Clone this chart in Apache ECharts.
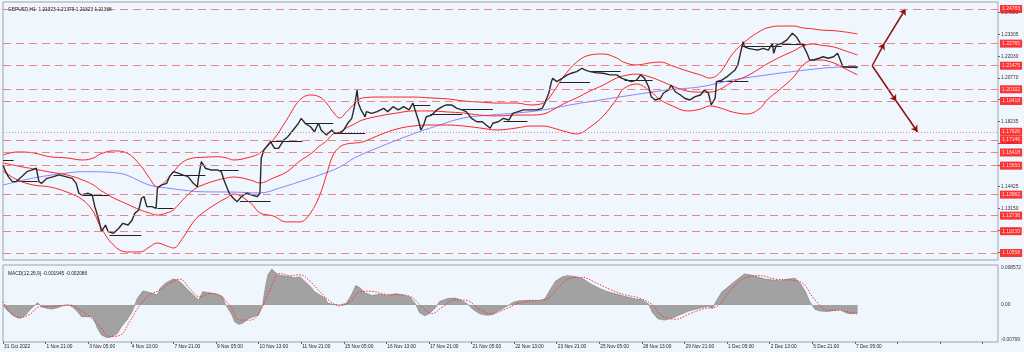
<!DOCTYPE html>
<html><head><meta charset="utf-8">
<script src="https://cdn.jsdelivr.net/npm/echarts@6/dist/echarts.min.js"></script>
<style>html,body{margin:0;padding:0;background:#f0f6fd;}#c{width:1024px;height:352px;}</style>
</head><body><div id="c"></div>
<script>
// time axis labels every 32 hourly bars
const timeLabels = ['31 Oct 2022','1 Nov 21:00','3 Nov 05:00','4 Nov 13:00','7 Nov 21:00','9 Nov 05:00','10 Nov 13:00','11 Nov 21:00','15 Nov 05:00','16 Nov 13:00','17 Nov 21:00','21 Nov 05:00','22 Nov 13:00','23 Nov 21:00','25 Nov 05:00','28 Nov 13:00','29 Nov 21:00','1 Dec 05:00','2 Dec 13:00','5 Dec 21:00','7 Dec 05:00'];
const priceTicks = [1.24580,1.23305,1.22030,1.20770,1.19505,1.18235,1.16965,1.15695,1.14425,1.13150,1.11880,1.10605];
const levels = [1.24783,1.22765,1.21475,1.20102,1.19418,1.17146,1.16418,1.15650,1.13962,1.12736,1.11830,1.10558];
const dottedLevels = [1.17626];
const lastPrice = 1.21368;
const macdTicks = [0.008572, 0, -0.00799];
const macdTickText = ['0.008572','0.00','-0.00799'];

// close prices [bar, price]
const closes = [[0,1.1569],[2,1.1530],[4,1.1501],[7,1.1472],[10,1.1472],[14,1.1501],[18,1.1530],[22,1.1540],[25,1.1550],[27,1.1472],[29,1.1462],[33,1.1491],[38,1.1501],[42,1.1511],[47,1.1501],[52,1.1491],[55,1.1462],[57,1.1404],[59,1.1394],[64,1.1404],[67,1.1394],[69,1.1326],[72,1.1248],[74,1.1180],[77,1.1219],[79,1.1180],[83,1.1171],[87,1.1200],[90,1.1229],[94,1.1219],[97,1.1248],[99,1.1287],[102,1.1307],[104,1.1375],[106,1.1384],[108,1.1326],[112,1.1326],[115,1.1316],[116,1.1433],[119,1.1452],[123,1.1462],[125,1.1501],[128,1.1530],[132,1.1520],[135,1.1511],[139,1.1501],[143,1.1462],[146,1.1442],[147,1.1501],[149,1.1588],[152,1.1550],[156,1.1540],[161,1.1540],[164,1.1530],[166,1.1481],[168,1.1442],[170,1.1404],[173,1.1375],[176,1.1355],[179,1.1384],[183,1.1404],[187,1.1394],[191,1.1384],[193,1.1404],[194,1.1608],[196,1.1656],[198,1.1676],[201,1.1705],[204,1.1666],[207,1.1666],[211,1.1715],[214,1.1734],[218,1.1773],[222,1.1812],[224,1.1841],[227,1.1812],[231,1.1792],[234,1.1763],[237,1.1812],[239,1.1773],[243,1.1744],[247,1.1773],[249,1.1754],[253,1.1754],[256,1.1773],[259,1.1812],[262,1.1841],[264,1.1909],[266,1.2006],[267,1.1929],[269,1.1890],[272,1.1850],[273,1.1880],[277,1.1870],[281,1.1880],[286,1.1899],[289,1.1880],[293,1.1909],[297,1.1890],[301,1.1909],[305,1.1890],[308,1.1929],[310,1.1880],[312,1.1831],[314,1.1773],[316,1.1802],[318,1.1850],[322,1.1860],[326,1.1890],[330,1.1909],[333,1.1919],[337,1.1919],[341,1.1899],[345,1.1890],[348,1.1880],[352,1.1841],[356,1.1821],[360,1.1821],[363,1.1802],[366,1.1783],[368,1.1812],[372,1.1821],[376,1.1841],[380,1.1831],[383,1.1870],[387,1.1880],[391,1.1890],[396,1.1890],[401,1.1890],[405,1.1899],[407,1.1929],[410,1.1987],[412,1.2055],[413,1.2074],[416,1.2055],[420,1.2074],[424,1.2094],[427,1.2104],[431,1.2113],[435,1.2133],[437,1.2123],[441,1.2113],[446,1.2107],[451,1.2104],[456,1.2094],[461,1.2094],[465,1.2074],[469,1.2064],[472,1.2055],[476,1.2064],[479,1.2094],[482,1.2074],[485,1.2025],[487,1.1967],[490,1.1948],[494,1.1958],[496,1.1987],[500,1.2006],[502,1.2035],[505,1.1996],[509,1.1977],[512,1.1958],[516,1.1948],[520,1.1967],[524,1.1977],[527,1.2006],[530,1.1987],[532,1.1919],[535,1.1958],[536,1.2055],[540,1.2064],[544,1.2084],[547,1.2104],[550,1.2123],[552,1.2152],[554,1.2220],[556,1.2288],[557,1.2259],[560,1.2249],[564,1.2243],[567,1.2239],[571,1.2249],[575,1.2239],[578,1.2278],[579,1.2220],[581,1.2268],[585,1.2278],[589,1.2298],[593,1.2337],[596,1.2317],[599,1.2278],[601,1.2268],[604,1.2220],[606,1.2181],[609,1.2181],[613,1.2191],[616,1.2200],[620,1.2191],[624,1.2200],[627,1.2220],[629,1.2181],[631,1.2142],[635,1.2138],[639,1.2138],[642,1.2137]];

// Bollinger bands [bar, value]
const bbUpper = [[0,1.1627],[11,1.1645],[23,1.1639],[35,1.1617],[48,1.1610],[60,1.1598],[68,1.1610],[73,1.1633],[83,1.1651],[93,1.1639],[103,1.1569],[110,1.1493],[116,1.1442],[123,1.1481],[128,1.1528],[135,1.1586],[143,1.1610],[148,1.1613],[161,1.1617],[168,1.1610],[173,1.1598],[186,1.1616],[193,1.1639],[203,1.1715],[213,1.1831],[223,1.1948],[231,1.1977],[238,1.1965],[243,1.1930],[248,1.1878],[253,1.1843],[258,1.1878],[264,1.1925],[270,1.1960],[283,1.1965],[296,1.1965],[308,1.1965],[321,1.1960],[334,1.1954],[346,1.1942],[358,1.1936],[371,1.1930],[386,1.1930],[396,1.1919],[406,1.1930],[413,1.1989],[421,1.2082],[431,1.2169],[441,1.2210],[451,1.2216],[461,1.2193],[466,1.2169],[476,1.2152],[486,1.2164],[494,1.2169],[503,1.2146],[514,1.2117],[524,1.2094],[531,1.2076],[539,1.2111],[548,1.2216],[559,1.2298],[569,1.2350],[574,1.2368],[584,1.2379],[594,1.2379],[601,1.2368],[609,1.2362],[614,1.2356],[624,1.2352],[633,1.2344],[642,1.2333]];
const bbMiddle = [[0,1.1581],[11,1.1563],[23,1.1546],[35,1.1528],[48,1.1511],[60,1.1481],[68,1.1452],[73,1.1423],[83,1.1377],[93,1.1342],[103,1.1307],[110,1.1289],[116,1.1277],[123,1.1289],[128,1.1307],[135,1.1365],[143,1.1423],[148,1.1446],[161,1.1481],[168,1.1493],[173,1.1499],[186,1.1481],[193,1.1464],[203,1.1493],[213,1.1528],[223,1.1592],[231,1.1633],[238,1.1680],[243,1.1709],[248,1.1750],[253,1.1761],[258,1.1785],[264,1.1808],[270,1.1831],[283,1.1855],[296,1.1872],[308,1.1884],[321,1.1884],[334,1.1878],[346,1.1872],[358,1.1860],[371,1.1855],[386,1.1860],[396,1.1860],[406,1.1866],[413,1.1890],[421,1.1925],[431,1.1960],[441,1.2000],[451,1.2035],[461,1.2076],[466,1.2088],[476,1.2099],[486,1.2082],[494,1.2059],[503,1.2029],[514,1.2000],[524,1.1994],[531,1.1994],[539,1.2012],[548,1.2053],[559,1.2088],[569,1.2134],[574,1.2158],[584,1.2199],[594,1.2234],[601,1.2263],[609,1.2274],[614,1.2268],[624,1.2257],[633,1.2234],[642,1.2210]];
const bbLower = [[0,1.1534],[11,1.1481],[23,1.1452],[35,1.1441],[48,1.1411],[60,1.1365],[68,1.1295],[73,1.1213],[83,1.1102],[93,1.1062],[103,1.1062],[110,1.1091],[116,1.1114],[123,1.1097],[128,1.1085],[135,1.1143],[143,1.1237],[148,1.1277],[161,1.1347],[168,1.1377],[173,1.1400],[186,1.1347],[193,1.1289],[203,1.1272],[213,1.1237],[223,1.1237],[231,1.1289],[238,1.1394],[243,1.1511],[248,1.1627],[253,1.1674],[258,1.1691],[264,1.1697],[270,1.1703],[283,1.1744],[296,1.1779],[308,1.1796],[321,1.1802],[334,1.1802],[346,1.1796],[358,1.1785],[371,1.1773],[386,1.1785],[396,1.1796],[406,1.1796],[413,1.1785],[421,1.1767],[431,1.1750],[441,1.1790],[451,1.1855],[461,1.1954],[466,1.2012],[476,1.2041],[486,1.2000],[494,1.1948],[503,1.1913],[514,1.1884],[524,1.1895],[531,1.1913],[539,1.1901],[548,1.1878],[559,1.1866],[569,1.1901],[574,1.1948],[584,1.2012],[594,1.2082],[601,1.2152],[609,1.2181],[614,1.2181],[624,1.2164],[633,1.2129],[642,1.2094]];
// long moving average (blue)
const maLong = [[0,1.1452],[23,1.1493],[48,1.1522],[60,1.1530],[86,1.1522],[110,1.1452],[123,1.1435],[135,1.1423],[148,1.1413],[173,1.1411],[193,1.1406],[208,1.1435],[223,1.1472],[238,1.1511],[253,1.1557],[264,1.1610],[283,1.1674],[306,1.1744],[328,1.1802],[346,1.1843],[366,1.1860],[386,1.1872],[406,1.1890],[426,1.1919],[449,1.1948],[473,1.1977],[499,1.2006],[524,1.2025],[548,1.2064],[574,1.2094],[599,1.2119],[624,1.2138],[642,1.2142]];
// horizontal black segments [startBar, endBar, price]
const openSegments = [[0,8,1.1594],[8,26,1.1472],[60,80,1.1394],[80,104,1.1161],[116,128,1.1318],[128,152,1.1511],[163,177,1.1540],[178,201,1.1355],[201,225,1.1705],[227,248,1.1812],[253,272,1.1754],[308,321,1.1919],[321,345,1.1866],[345,368,1.1895],[376,394,1.1825],[418,441,1.2049],[441,464,1.2113],[467,488,1.2064],[537,560,1.2055],[555,585,1.2259],[585,603,1.2274],[631,642,1.2142]];
// projection arrows
const arrows = [[[653,1.21475],[662,1.22765]],[[662,1.22765],[678,1.24783]],[[653,1.21475],[671,1.19418]],[[671,1.19418],[687,1.17626]]];

// MACD main (histogram) and signal
const macdMain = [[0,0],[3,-0.00116],[7,-0.00232],[11,-0.00293],[13,-0.00309],[17,-0.00232],[20,-0.00116],[24,0],[26,0.00054],[29,-0.00039],[33,-0.00077],[37,-0.00093],[41,-0.00062],[45,-0.00015],[49,0],[52,-0.00039],[56,-0.00154],[59,-0.0027],[63,-0.0027],[67,-0.0027],[69,-0.00386],[71,-0.0054],[74,-0.00695],[78,-0.00757],[82,-0.00733],[86,-0.00656],[89,-0.00502],[93,-0.00347],[97,-0.00154],[99,0],[101,0.00154],[105,0.00324],[108,0.00309],[112,0.0027],[116,0.00232],[118,0.00386],[122,0.00502],[125,0.00556],[128,0.00602],[131,0.00579],[135,0.00479],[139,0.00347],[143,0.00232],[147,0.00116],[150,0.00309],[153,0.00293],[157,0.0027],[161,0.00247],[165,0.00193],[167,0.00015],[169,-0.00077],[172,-0.00232],[174,-0.00386],[177,-0.00448],[180,-0.00425],[184,-0.00324],[188,-0.0027],[192,-0.00232],[195,0],[197,0.00386],[199,0.00695],[202,0.00834],[204,0.00772],[207,0.00695],[210,0.00679],[216,0.00656],[219,0.00633],[223,0.00656],[227,0.0054],[231,0.00425],[234,0.00309],[238,0.00232],[242,0.00154],[244,0.00039],[248,0.00015],[253,0],[258,0.00039],[262,0.0025],[265,0.0045],[268,0.004],[272,0.0028],[277,0.0022],[283,0.0025],[289,0.0022],[295,0.0026],[300,0.0024],[306,0.0018],[310,0.0002],[313,-0.0018],[317,-0.0025],[321,-0.0018],[325,-0.0006],[328,0.0008],[334,0.0015],[340,0.0016],[345,0.001],[349,0.0002],[353,-0.001],[358,-0.002],[364,-0.0024],[368,-0.0022],[373,-0.0012],[379,-0.0002],[383,0.0006],[388,0.001],[396,0.0011],[403,0.001],[407,0.0014],[411,0.0035],[415,0.0055],[420,0.0065],[424,0.0068],[430,0.0066],[436,0.006],[441,0.005],[447,0.004],[453,0.0032],[460,0.0026],[467,0.002],[475,0.0014],[480,0.0012],[485,0.0002],[488,-0.0018],[492,-0.0032],[497,-0.0035],[503,-0.003],[509,-0.0022],[515,-0.0014],[520,-0.001],[525,-0.0006],[530,-0.0003],[533,-0.0008],[536,0.001],[540,0.003],[546,0.0045],[552,0.006],[557,0.0072],[561,0.007],[567,0.0065],[572,0.006],[578,0.0058],[584,0.0056],[590,0.006],[595,0.0062],[599,0.005],[603,0.003],[606,0.0008],[610,-0.001],[614,-0.0014],[620,-0.0015],[625,-0.0012],[629,-0.001],[633,-0.0018],[636,-0.002],[642,-0.0019]];
const macdSignal = [[0,0.0008],[5,-0.0015],[13,-0.0029],[20,-0.0022],[28,-0.0004],[35,-0.0004],[43,-0.00015],[50,0],[58,-0.0012],[65,-0.0027],[73,-0.005],[80,-0.0073],[88,-0.007],[95,-0.0039],[103,0],[110,0.0023],[118,0.0035],[125,0.005],[133,0.006],[140,0.0039],[148,0.0019],[156,0.0027],[163,0.0022],[171,-0.0004],[178,-0.0035],[186,-0.0035],[193,-0.0015],[201,0.0039],[208,0.0073],[216,0.0068],[223,0.007],[231,0.0054],[238,0.0031],[246,0.0008],[253,-0.0002],[261,0.0008],[268,0.003],[276,0.0032],[287,0.0025],[298,0.0024],[307,0.0018],[315,-0.0005],[322,-0.002],[330,-0.0005],[340,0.0012],[349,0.001],[358,-0.001],[367,-0.002],[377,-0.001],[387,0.0004],[400,0.001],[409,0.0015],[417,0.004],[426,0.0062],[435,0.0064],[445,0.0052],[456,0.0036],[467,0.0024],[479,0.0015],[488,0],[495,-0.0025],[505,-0.0033],[516,-0.002],[526,-0.0009],[537,-0.0002],[546,0.0032],[557,0.0062],[569,0.0068],[580,0.006],[591,0.0058],[600,0.0052],[610,0.0012],[620,-0.0012],[629,-0.0013],[642,-0.0021]];

const FONT = 'Liberation Sans';
const chart = echarts.init(document.getElementById('c'), null, {renderer:'canvas'});
const xCommon = {type:'value', min:0, max:747.5, interval:32, splitLine:{show:false}};
const redLabel = {show:true, position:'end', distance:2, color:'#ffffff', backgroundColor:'#ff1010', padding:[2,2,1,2], fontSize:5, fontFamily:FONT};
chart.setOption({
  animation:false,
  backgroundColor:'#f0f6fd',
  title:[
    {text:'GBPUSD,H1  1.21323 1.21379 1.21323 1.21368', left:3, top:2, textStyle:{fontSize:4.8, fontWeight:'normal', color:'#222', fontFamily:FONT}},
    {text:'MACD(12,26,9) -0.001945 -0.002086', left:3, top:266, textStyle:{fontSize:4.8, fontWeight:'normal', color:'#222', fontFamily:FONT}}
  ],
  grid:[
    {left:3, right:26, top:2, bottom:92, show:true, borderColor:'#9aa4ae', borderWidth:1, backgroundColor:'transparent'},
    {left:3, right:26, top:265, bottom:10, show:true, borderColor:'#9aa4ae', borderWidth:1, backgroundColor:'transparent'}
  ],
  xAxis:[
    Object.assign({gridIndex:0, axisLine:{show:false, onZero:false}, axisTick:{show:false}, axisLabel:{show:false}}, xCommon),
    Object.assign({gridIndex:1, axisLine:{show:false, onZero:false},
      axisTick:{show:true, length:2, lineStyle:{color:'#666'}},
      axisLabel:{show:true, showMaxLabel:false, align:'left', margin:2, padding:[0,0,0,1], fontSize:4.8, fontFamily:FONT, color:'#222',
        formatter:v=>timeLabels[Math.round(v/32)]||''}}, xCommon)
  ],
  yAxis:[
    {gridIndex:0, type:'value', position:'right', min:1.101500, max:1.251914, splitLine:{show:false}, axisLine:{show:false, onZero:false},
      axisTick:{show:true, length:2, customValues:priceTicks, lineStyle:{color:'#666'}},
      axisLabel:{show:true, customValues:priceTicks, margin:3, fontSize:4.8, fontFamily:FONT, color:'#333', formatter:v=>v.toFixed(5)}},
    {gridIndex:1, type:'value', position:'right', min:-0.008573, max:0.009268, splitLine:{show:false}, axisLine:{show:false, onZero:false},
      axisTick:{show:false},
      axisLabel:{show:true, customValues:macdTicks, margin:3, fontSize:4.8, fontFamily:FONT, color:'#333',
        formatter:v=>{const i=macdTicks.findIndex(t=>Math.abs(t-v)<1e-7);return i>=0?macdTickText[i]:'';}}}
  ],
  series:[
    {type:'line', name:'levels', xAxisIndex:0, yAxisIndex:0, data:[], silent:true,
      markLine:{silent:true, precision:5, symbol:['none','none'], animation:false,
        lineStyle:{color:'#f07070', width:1, type:[8,5], opacity:0.85},
        label:redLabel,
        data:levels.map(v=>({yAxis:v, label:{formatter:v.toFixed(5)}})).concat(dottedLevels.map(v=>({yAxis:v, label:{formatter:v.toFixed(5)}, lineStyle:{type:[1,2], color:'#f07070'}})))}},
    {type:'line', name:'last', xAxisIndex:0, yAxisIndex:0, data:[], silent:true, z:1,
      markLine:{silent:true, precision:5, symbol:['none','none'], animation:false, lineStyle:{opacity:0},
        label:Object.assign({}, redLabel, {backgroundColor:'#111', color:'#fff'}),
        data:[{yAxis:lastPrice, label:{formatter:lastPrice.toFixed(5)}}]}},
    {type:'line', name:'maLong', xAxisIndex:0, yAxisIndex:0, data:maLong, showSymbol:false, smooth:0.4, lineStyle:{color:'#8585ff', width:1}},
    {type:'line', name:'bbUpper', xAxisIndex:0, yAxisIndex:0, data:bbUpper, showSymbol:false, smooth:0.4, lineStyle:{color:'#ff2222', width:1}},
    {type:'line', name:'bbMiddle', xAxisIndex:0, yAxisIndex:0, data:bbMiddle, showSymbol:false, smooth:0.4, lineStyle:{color:'#ff2222', width:1}},
    {type:'line', name:'bbLower', xAxisIndex:0, yAxisIndex:0, data:bbLower, showSymbol:false, smooth:0.4, lineStyle:{color:'#ff2222', width:1}},
    {type:'lines', name:'opens', coordinateSystem:'cartesian2d', xAxisIndex:0, yAxisIndex:0, silent:true,
      lineStyle:{color:'#222', width:1, opacity:1},
      data:openSegments.map(s=>({coords:[[s[0],s[2]],[s[1],s[2]]]}))},
    {type:'line', name:'price', xAxisIndex:0, yAxisIndex:0, data:closes, showSymbol:false, lineStyle:{color:'#2a2a2a', width:1.4}},
    {type:'lines', name:'arrows', coordinateSystem:'cartesian2d', xAxisIndex:0, yAxisIndex:0, silent:true,
      symbol:['none','arrow'], symbolSize:6,
      lineStyle:{color:'#8b0f0f', width:1.5, opacity:1},
      data:arrows.map(a=>({coords:a}))},
    {type:'line', name:'macd', xAxisIndex:1, yAxisIndex:1, data:macdMain, showSymbol:false,
      lineStyle:{color:'#7a7a7a', width:0.6}, areaStyle:{color:'#a2a2a2', opacity:1}},
    {type:'line', name:'signal', xAxisIndex:1, yAxisIndex:1, data:macdSignal, showSymbol:false, smooth:0.4,
      lineStyle:{color:'#ff3030', width:1, type:[1.5,1.5]}}
  ]
});
</script>
</body></html>
